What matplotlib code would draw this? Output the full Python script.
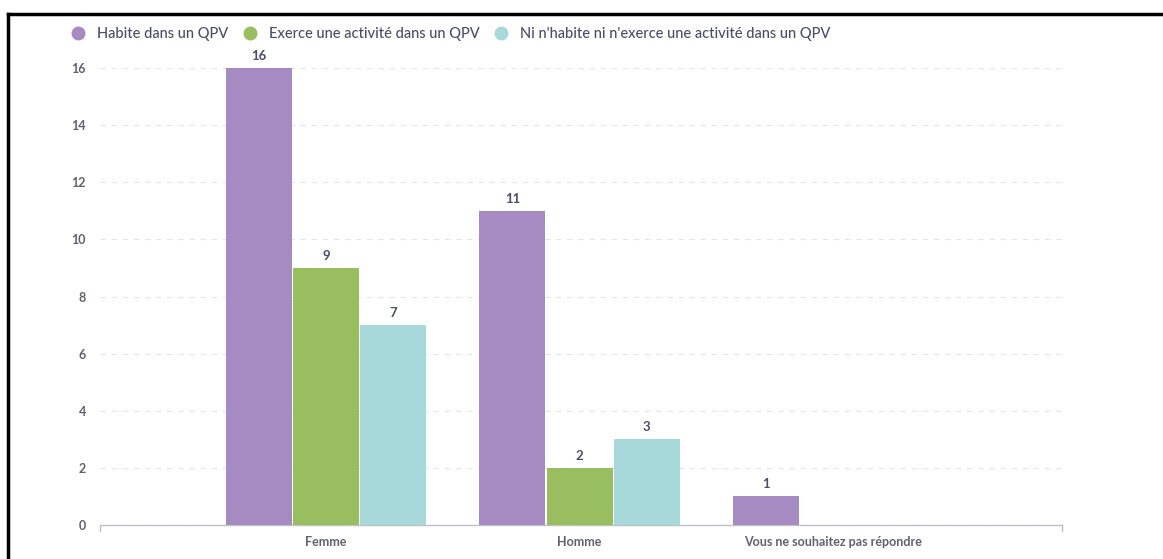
import numpy as np
import matplotlib.pyplot as plt
from matplotlib.lines import Line2D

plt.rcParams['font.family'] = ['Lato', 'DejaVu Sans']

categories = ['Femme', 'Homme', 'Vous ne souhaitez pas répondre']
series = ['Habite dans un QPV', 'Exerce une activité dans un QPV',
          "Ni n'habite ni n'exerce une activité dans un QPV"]
habite = [16, 11, 1]
exerce = [9, 2, 0]
ni_ni = [7, 3, 0]
colors = ['#a68ac2', '#98be60', '#a7d9db']

fig = plt.figure(figsize=(11.63, 5.59), dpi=100)
ax = fig.add_axes([0.086, 0.061, 0.827, 0.817])

x = np.arange(len(categories))
width = 0.26
step = 0.265
text_col = '#4a4e68'
for k, (vals, col) in enumerate(zip([habite, exerce, ni_ni], colors)):
    for i, v in enumerate(vals):
        if v == 0:
            continue
        xi = x[i] + (k - 1) * step
        ax.bar(xi, v, width, color=col, zorder=3)
        ax.text(xi, v + 0.22, str(v), ha='center', va='bottom', fontsize=9.5,
                fontweight='bold', color=text_col, clip_on=False)

ax.set_xlim(-0.89, 2.9)
ax.set_ylim(0, 16)
ax.set_yticks(range(0, 17, 2))
ax.set_xticks(x)
ax.set_xticklabels(categories)
ax.tick_params(axis='x', length=0, pad=8, labelsize=9, labelcolor='#60636f')
ax.tick_params(axis='y', length=0, pad=10, labelsize=9, labelcolor='#60636f')
for lab in ax.get_xticklabels() + ax.get_yticklabels():
    lab.set_fontweight('bold')
ax.grid(axis='y', color='#e6e6ea', linestyle=(0, (5, 5)), linewidth=0.8, zorder=0)
for s in ['top', 'right', 'left']:
    ax.spines[s].set_visible(False)
ax.spines['bottom'].set_color('#bfc1c8')
ax.spines['bottom'].set_linewidth(1)
ax.plot([-0.89, -0.89], [0, -0.2], color='#bfc1c8', lw=1, clip_on=False)
ax.plot([2.9, 2.9], [0, -0.2], color='#bfc1c8', lw=1, clip_on=False)

handles = [Line2D([], [], marker='o', linestyle='', markersize=9, color=c) for c in colors]
fig.legend(handles, series, loc='upper left', bbox_to_anchor=(0.043, 0.975), ncol=3,
           frameon=False, prop={'size': 10.5, 'weight': 'medium'}, handletextpad=0.3,
           columnspacing=0.5, labelcolor='#4a4e68')

# screenshot frame
fig.add_artist(Line2D([8 / 1163, 8 / 1163], [0, 1 - 14 / 559], transform=fig.transFigure,
                      color='black', lw=2.5))
fig.add_artist(Line2D([8 / 1163, 1], [1 - 14 / 559, 1 - 14 / 559], transform=fig.transFigure,
                      color='black', lw=2.5))

fig.savefig('out.png', dpi=100)
